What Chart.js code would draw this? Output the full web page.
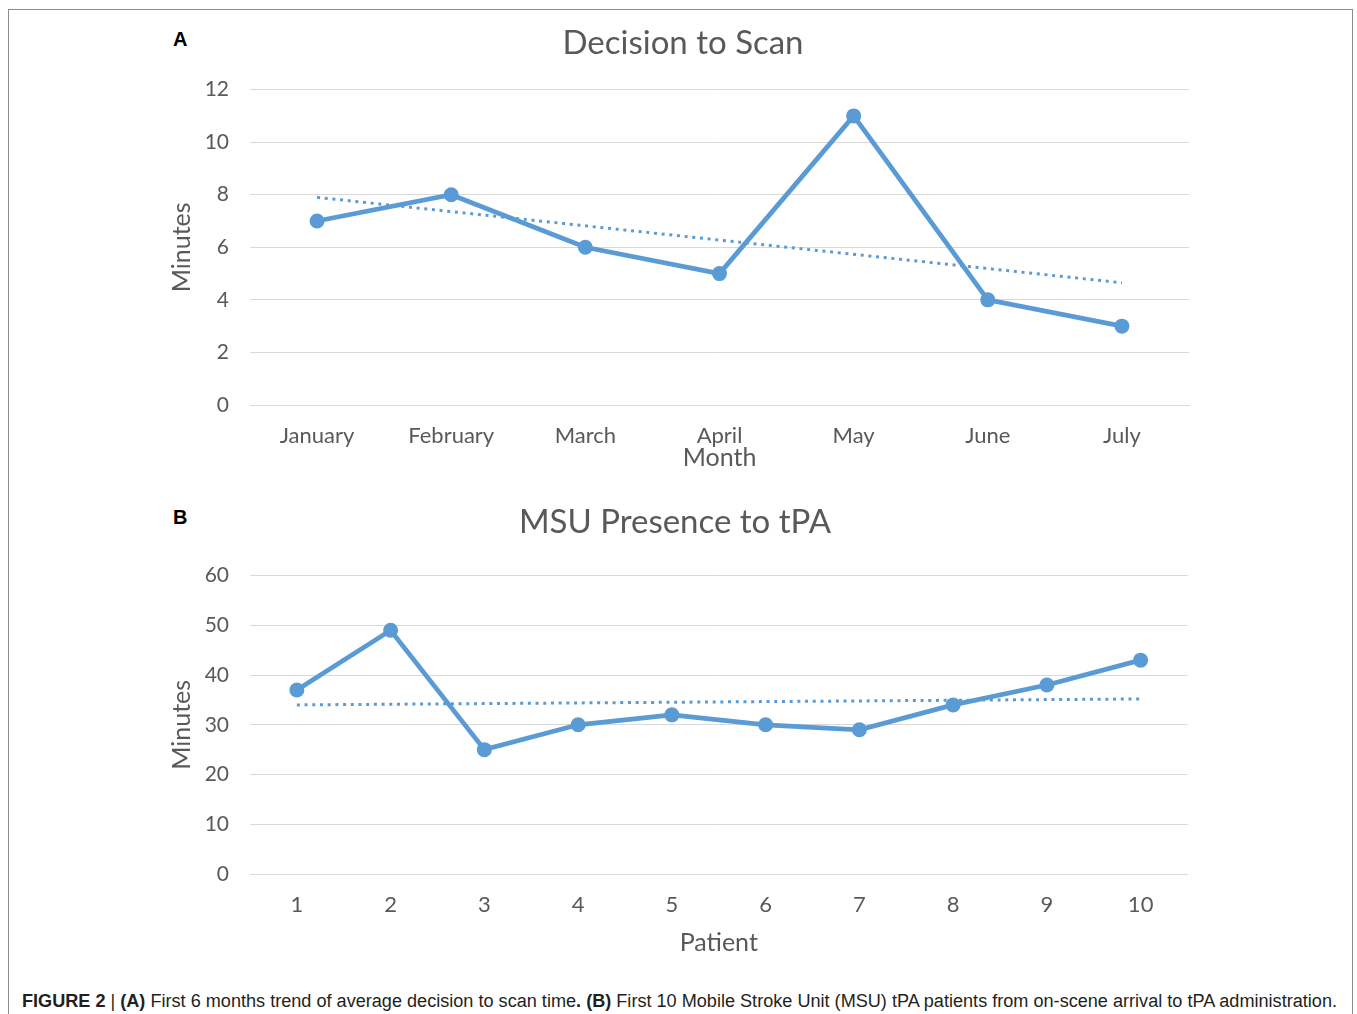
<!DOCTYPE html>
<html>
<head>
<meta charset="utf-8">
<script src="https://cdn.jsdelivr.net/npm/chart.js@4.4.1/dist/chart.umd.min.js"></script>
<style>
  body { margin: 0; background: #fff; width: 1357px; height: 1014px; overflow: hidden; position: relative; }
  #frame { position: absolute; left: 8px; top: 9px; width: 1345px; height: 1020px; border: 1px solid #8c8c8c; box-sizing: border-box; }
  .panel { position: absolute; font: bold 20px "Liberation Sans", Arial, sans-serif; color: #000; }
  #wrapA { position: absolute; left: 160px; top: 20px; }
  #wrapB { position: absolute; left: 155px; top: 500px; }
  #caption { position: absolute; left: 22px; top: 991px; white-space: nowrap; font: 18px "Liberation Sans Narrow", "Liberation Sans", Arial, sans-serif; color: #231f20; transform-origin: 0 0; }
</style>
</head>
<body>
<div id="frame"></div>
<div class="panel" style="left:173px; top:28px;">A</div>
<div class="panel" style="left:173px; top:506px;">B</div>
<div id="wrapA"><canvas id="chartA" width="1046" height="455"></canvas></div>
<div id="wrapB"><canvas id="chartB" width="1040" height="464"></canvas></div>
<div id="caption"><b>FIGURE 2</b> | <b>(A)</b> First 6 months trend of average decision to scan time<b>.</b> <b>(B)</b> First 10 Mobile Stroke Unit (MSU) tPA patients from on-scene arrival to tPA administration.</div>

<script>
// Datos panel A
const months = ['January', 'February', 'March', 'April', 'May', 'June', 'July'];
const decisionMinutes = [7, 8, 6, 5, 11, 4, 3];
// linea de tendencia (solo extremos)
const decisionTrend = [7.9, null, null, null, null, null, 4.65];

// Datos panel B
const patients = ['1', '2', '3', '4', '5', '6', '7', '8', '9', '10'];
const presenceMinutes = [37, 49, 25, 30, 32, 30, 29, 34, 38, 43];
const presenceTrend = [34, null, null, null, null, null, null, null, null, 35.2];

const blue = '#5B9BD5';
const textGray = '#595959';
const gridGray = '#d9d9d9';
const fontFam = 'Lato, "Open Sans", sans-serif';

function buildOptions(cfg) {
    return {
        responsive: false,
        animation: false,
        devicePixelRatio: 1,
        layout: { padding: 0 },
        plugins: {
            legend: { display: false },
            tooltip: { enabled: false },
            title: {
                display: true,
                text: cfg.title,
                color: textGray,
                font: { family: fontFam, size: 33, weight: 'normal' },
                padding: { top: cfg.titleTop, bottom: cfg.titleBottom }
            }
        },
        scales: {
            x: {
                offset: true,
                grid: { display: false, drawTicks: false },
                border: { display: true, color: gridGray, width: 1 },
                ticks: { color: textGray, padding: 18, maxRotation: 0, font: { family: fontFam, size: 22 } },
                title: {
                    display: true,
                    text: cfg.xTitle,
                    color: textGray,
                    font: { family: fontFam, size: 25 },
                    padding: { top: 0, bottom: cfg.xTitleBottom }
                },
                afterFit: function (scale) { scale.height = cfg.xHeight; }
            },
            y: {
                min: 0,
                max: cfg.yMax,
                ticks: { stepSize: cfg.yStep, color: textGray, padding: 21, font: { family: fontFam, size: 21 } },
                grid: { color: gridGray, lineWidth: 1, drawTicks: false },
                border: { display: false },
                title: {
                    display: true,
                    text: 'Minutes',
                    color: textGray,
                    font: { family: fontFam, size: 25 },
                    padding: { top: cfg.yTitleTop, bottom: 0 }
                },
                afterFit: function (scale) { scale.width = cfg.yWidth; }
            },
            // eje vacio a la derecha, solo para reservar margen sin mover el titulo
            yRight: {
                position: 'right',
                display: true,
                ticks: { display: false },
                grid: { display: false, drawTicks: false },
                border: { display: false },
                afterFit: function (scale) { scale.width = cfg.rightWidth; }
            }
        }
    };
}

function buildDatasets(values, trend) {
    return [
        {
            data: values,
            borderColor: blue,
            backgroundColor: blue,
            borderWidth: 4.75,
            pointRadius: 7.5,
            pointBorderWidth: 0,
            tension: 0,
            order: 1
        },
        {
            data: trend,
            borderColor: blue,
            borderWidth: 3,
            borderDash: [3, 4.7],
            pointRadius: 0,
            spanGaps: true,
            fill: false,
            order: 2
        }
    ];
}

new Chart(document.getElementById('chartA').getContext('2d'), {
    type: 'line',
    data: { labels: months, datasets: buildDatasets(decisionMinutes, decisionTrend) },
    options: buildOptions({
        title: 'Decision to Scan', titleTop: 4, titleBottom: 26,
        xTitle: 'Month', xTitleBottom: 2, xHeight: 70, yMax: 12, yStep: 2,
        yWidth: 90, yTitleTop: 7, rightWidth: 17
    })
});

new Chart(document.getElementById('chartB').getContext('2d'), {
    type: 'line',
    data: { labels: patients, datasets: buildDatasets(presenceMinutes, presenceTrend) },
    options: buildOptions({
        title: 'MSU Presence to tPA', titleTop: 3, titleBottom: 33,
        xTitle: 'Patient', xTitleBottom: 6, xHeight: 90, yMax: 60, yStep: 10,
        yWidth: 95, yTitleTop: 12, rightWidth: 6
    })
});

// ajustar el ancho del pie de figura
const cap = document.getElementById('caption');
const capW = cap.getBoundingClientRect().width;
cap.style.transform = 'scaleX(' + (1315 / capW) + ')';
</script>
</body>
</html>
